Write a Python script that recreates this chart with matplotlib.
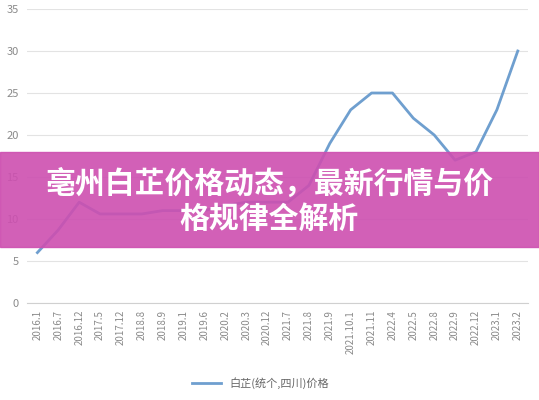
import matplotlib.pyplot as plt

plt.rcParams['font.family'] = ['Noto Sans CJK SC', 'DejaVu Sans']

dates = ["2016.1", "2016.7", "2016.12", "2017.5", "2017.12", "2018.8", "2018.9",
         "2019.1", "2019.6", "2020.2", "2020.3", "2020.12", "2021.7", "2021.8",
         "2021.9", "2021.10.1", "2021.11", "2022.4", "2022.5", "2022.8", "2022.9",
         "2022.12", "2023.1", "2023.2"]
prices = [6, 8.7, 12, 10.6, 10.6, 10.6, 11, 11, 11, 11.6, 12, 12, 12, 14,
          19, 23, 25, 25, 22, 20, 17, 18, 23, 30]
series_name = "白芷(统个,四川)价格"
title = "亳州白芷价格动态，最新行情与价\n格规律全解析"

fig = plt.figure(figsize=(5.39, 4.0), dpi=100)
ax = fig.add_axes([0.05, 0.2425, 0.93, 0.735])

x = list(range(len(dates)))
ax.plot(x, prices, color="#6f9fcf", lw=2.0, label=series_name, zorder=3)

ax.set_xlim(-0.5, len(dates) - 0.5)
ax.set_ylim(0, 35)
ax.set_yticks(range(0, 36, 5))
ax.set_xticks(x)
ax.set_xticklabels(dates, rotation=90, fontsize=7, color="#8a8a8a")
ax.tick_params(axis="y", labelsize=8, colors="#8a8a8a", length=0, pad=6)
ax.tick_params(axis="x", length=0, pad=5)
ax.grid(axis="y", color="#e3e3e3", lw=0.8)
ax.set_axisbelow(True)
for s in ["top", "right", "left"]:
    ax.spines[s].set_visible(False)
ax.spines["bottom"].set_color("#d0d0d0")

fig.legend(loc="center", bbox_to_anchor=(0.483, 0.043), frameon=False,
           fontsize=8, labelcolor="#666666", handlelength=2.6)

# banner across the middle
fig.patches.append(plt.Rectangle((0, 1 - 247 / 400), 1, 95 / 400,
                                 transform=fig.transFigure, color="#cd4fb0",
                                 alpha=0.9, zorder=5))
fig.text(0.5, 1 - 201 / 400, title, ha="center", va="center", color="white",
         fontsize=21.5, fontweight="heavy", linespacing=1.2, zorder=6)

fig.savefig("out.png", dpi=100)
